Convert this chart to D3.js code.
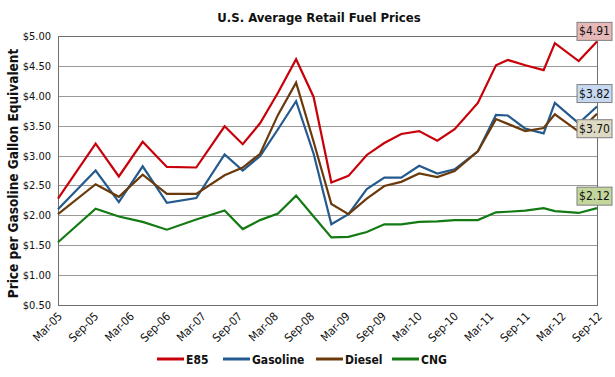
<!DOCTYPE html>
<html>
<head>
<meta charset="utf-8">
<script src="https://cdn.jsdelivr.net/npm/d3@7"></script>
<style>
  html, body { margin: 0; padding: 0; background: #fff; overflow: hidden; }
  svg { display: block; font-family: "DejaVu Sans Condensed", "Liberation Sans", sans-serif; }
</style>
</head>
<body>
<svg id="chart"></svg>
<script>
// report dates (irregular survey dates)
const dates = [
  "2005-03-01", "2005-09-08", "2006-01-04", "2006-05-05", "2006-09-05",
  "2007-02-01", "2007-06-25", "2007-09-25", "2007-12-22", "2008-03-22",
  "2008-06-22", "2008-09-19", "2008-12-18", "2009-03-15", "2009-06-16",
  "2009-09-13", "2009-12-08", "2010-03-09", "2010-06-09", "2010-09-05",
  "2011-01-01", "2011-04-03", "2011-06-02", "2011-08-30", "2011-12-01",
  "2012-01-27", "2012-05-27", "2012-08-28"
];

const e85 = [2.28, 3.20, 2.65, 3.23, 2.81, 2.80, 3.49, 3.19, 3.54, 4.05,
  4.61, 3.98, 2.55, 2.66, 3.01, 3.21, 3.36, 3.41, 3.25, 3.44,
  3.88, 4.51, 4.60, 4.51, 4.43, 4.88, 4.58, 4.91];
const gasoline = [2.10, 2.75, 2.22, 2.82, 2.21, 2.29, 3.02, 2.75, 2.99, 3.44,
  3.91, 3.03, 1.85, 2.02, 2.44, 2.63, 2.63, 2.83, 2.70, 2.77,
  3.07, 3.68, 3.67, 3.45, 3.37, 3.88, 3.54, 3.82];
const diesel = [2.02, 2.52, 2.31, 2.68, 2.36, 2.36, 2.67, 2.80, 3.03, 3.68,
  4.22, 3.23, 2.19, 2.02, 2.28, 2.49, 2.56, 2.70, 2.64, 2.74,
  3.07, 3.61, 3.53, 3.41, 3.46, 3.69, 3.40, 3.70];
const cng = [1.55, 2.11, 1.98, 1.89, 1.76, 1.93, 2.08, 1.77, 1.92, 2.03,
  2.33, 1.98, 1.63, 1.64, 1.72, 1.85, 1.85, 1.89, 1.90, 1.92,
  1.92, 2.05, 2.06, 2.08, 2.12, 2.07, 2.04, 2.12];

const seriesNames = ["E85", "Gasoline", "Diesel", "CNG"];
const yTicks = [0.5, 1, 1.5, 2, 2.5, 3, 3.5, 4, 4.5, 5];
const xTicks = [
  "2005-03-01", "2005-09-01", "2006-03-01", "2006-09-01", "2007-03-01", "2007-09-01",
  "2008-03-01", "2008-09-01", "2009-03-01", "2009-09-01", "2010-03-01", "2010-09-01",
  "2011-03-01", "2011-09-01", "2012-03-01", "2012-09-01"
];

const width = 615;
const height = 377;
const margin = { top: 36, right: 18, bottom: 72, left: 58 };
const innerWidth = width - margin.left - margin.right;
const innerHeight = height - margin.top - margin.bottom;

const parse = d3.timeParse("%Y-%m-%d");
const fmtTick = d3.timeFormat("%b-%y");
const fmtMoney = d3.format("$.2f");

const colors = ["#c8000a", "#255a8e", "#6a3a0c", "#137a13"];
const boxFills = ["#e6b9b8", "#c6d9f1", "#ddd9c3", "#c3d69b"];
// vertical nudge of the end labels so they don't collide
const boxShift = [-10, -13, 15, -12];

const series = [e85, gasoline, diesel, cng].map((vals, i) => ({
  name: seriesNames[i],
  color: colors[i],
  values: vals.map((v, j) => ({ date: parse(dates[j]), value: v }))
}));

const svg = d3.select("#chart")
  .attr("width", width)
  .attr("height", height);

const x = d3.scaleTime()
  .domain([parse(xTicks[0]), parse(dates[dates.length - 1])])
  .range([margin.left, margin.left + innerWidth]);

const y = d3.scaleLinear()
  .domain([0.5, 5])
  .range([margin.top + innerHeight, margin.top]);

// gridlines
svg.append("g")
  .selectAll("line")
  .data(yTicks)
  .join("line")
  .attr("x1", margin.left)
  .attr("x2", margin.left + innerWidth)
  .attr("y1", d => Math.round(y(d)) + 0.5)
  .attr("y2", d => Math.round(y(d)) + 0.5)
  .attr("stroke", "#9a9a9a")
  .attr("stroke-width", 1);

// plot border
svg.append("rect")
  .attr("x", margin.left + 0.5)
  .attr("y", margin.top + 0.5)
  .attr("width", innerWidth)
  .attr("height", Math.round(innerHeight))
  .attr("fill", "none")
  .attr("stroke", "#6e6e6e")
  .attr("stroke-width", 1);

// y tick labels
svg.append("g")
  .selectAll("text")
  .data(yTicks)
  .join("text")
  .attr("x", margin.left - 7)
  .attr("y", d => y(d) + 4)
  .attr("text-anchor", "end")
  .style("font-size", "11px")
  .attr("fill", "#111")
  .text(fmtMoney);

// x tick labels, rotated about the tick point
svg.append("g")
  .selectAll("text")
  .data(xTicks.map(parse))
  .join("text")
  .attr("x", d => x(d) + 5)
  .attr("y", margin.top + innerHeight + 12)
  .attr("transform", d => `rotate(-45,${x(d) + 5},${margin.top + innerHeight + 12})`)
  .attr("text-anchor", "end")
  .style("font-size", "11.5px")
  .attr("fill", "#111")
  .text(fmtTick);

// lines
const line = d3.line()
  .x(d => x(d.date))
  .y(d => y(d.value));

svg.selectAll(".series")
  .data(series)
  .join("path")
  .attr("class", "series")
  .attr("d", d => line(d.values))
  .attr("fill", "none")
  .attr("stroke", d => d.color)
  .attr("stroke-width", 2.2)
  .attr("stroke-linejoin", "miter");

// end value labels
const lastOf = d => d.values[d.values.length - 1];

svg.selectAll(".endbox")
  .data(series)
  .join("rect")
  .attr("class", "endbox")
  .attr("x", d => x(lastOf(d).date) - 20)
  .attr("y", (d, i) => y(lastOf(d).value) + boxShift[i] - 9)
  .attr("width", 35)
  .attr("height", 18)
  .attr("fill", (d, i) => boxFills[i])
  .attr("stroke", "#7f7f7f")
  .attr("stroke-width", 1);

svg.selectAll(".endtext")
  .data(series)
  .join("text")
  .attr("class", "endtext")
  .attr("x", d => x(lastOf(d).date) - 2.5)
  .attr("y", (d, i) => y(lastOf(d).value) + boxShift[i] + 4)
  .attr("text-anchor", "middle")
  .style("font-size", "12px")
  .attr("fill", "#111")
  .text(d => fmtMoney(lastOf(d).value));

// title
svg.append("text")
  .attr("x", 319)
  .attr("y", 22)
  .attr("text-anchor", "middle")
  .style("font-size", "13px")
  .style("font-weight", "bold")
  .attr("fill", "#111")
  .text("U.S. Average Retail Fuel Prices");

// y axis title
const titleCy = margin.top + innerHeight / 2 + 3;
svg.append("text")
  .attr("transform", `rotate(-90,18,${titleCy})`)
  .attr("x", 18)
  .attr("y", titleCy)
  .attr("text-anchor", "middle")
  .style("font-size", "13.5px")
  .style("font-weight", "bold")
  .attr("fill", "#111")
  .text("Price per Gasoline Gallon Equivalent");

// legend
const legendX = [157, 223, 316, 392];
const legendY = 359;

svg.append("g")
  .selectAll("line")
  .data(series)
  .join("line")
  .attr("x1", (d, i) => legendX[i])
  .attr("x2", (d, i) => legendX[i] + 27)
  .attr("y1", legendY)
  .attr("y2", legendY)
  .attr("stroke", d => d.color)
  .attr("stroke-width", 3);

svg.append("g")
  .selectAll("text")
  .data(series)
  .join("text")
  .attr("x", (d, i) => legendX[i] + 29)
  .attr("y", legendY + 4.5)
  .style("font-size", "12px")
  .style("font-weight", "bold")
  .attr("fill", "#111")
  .text(d => d.name);
</script>
</body>
</html>
